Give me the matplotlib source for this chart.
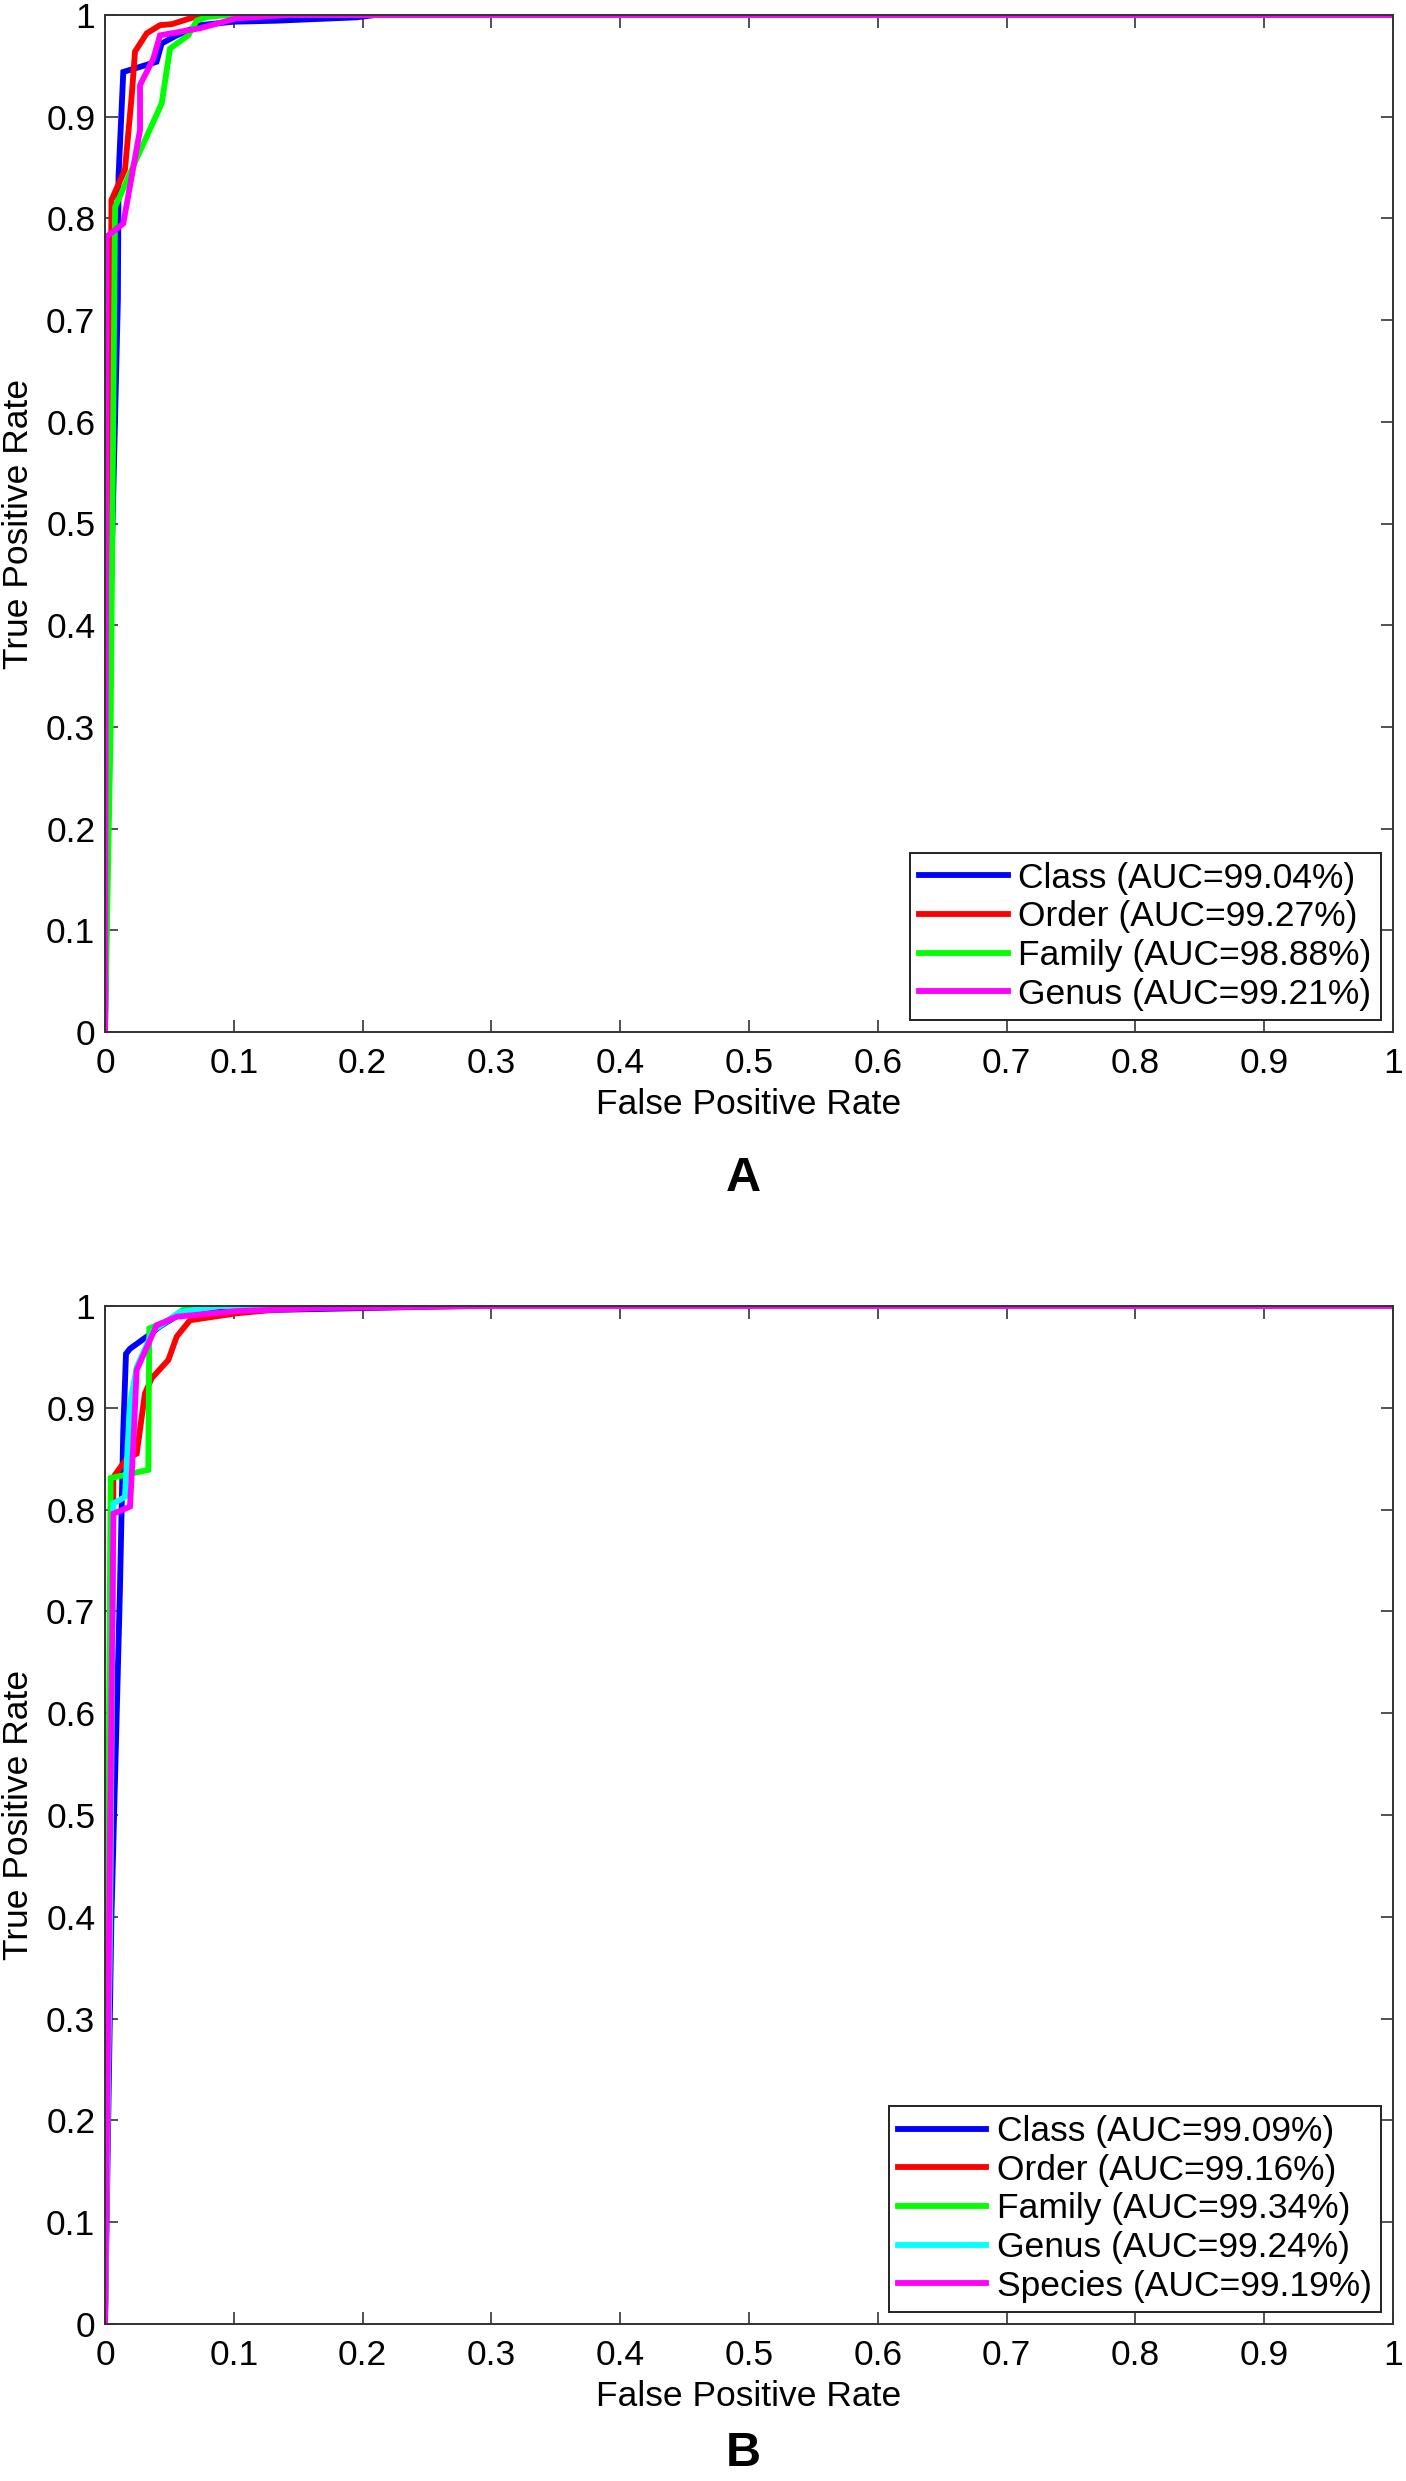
import matplotlib
matplotlib.use("Agg")
import matplotlib.pyplot as plt

plt.rcParams['font.family'] = ['Liberation Sans', 'DejaVu Sans']

# ---------------- Data ----------------
# Panel A
a_class_fpr = [0, 0.004, 0.010, 0.0105, 0.0142, 0.040, 0.044, 0.0557, 0.0738, 0.0996, 0.133, 0.195, 0.21, 1]
a_class_tpr = [0, 0.40, 0.72, 0.841, 0.944, 0.954, 0.972, 0.980, 0.990, 0.9934, 0.9944, 0.9977, 1, 1]
a_order_fpr = [0, 0.003, 0.005, 0.0155, 0.0207, 0.0233, 0.0324, 0.0427, 0.0518, 0.0686, 0.076, 1]
a_order_tpr = [0, 0.40, 0.818, 0.848, 0.920, 0.964, 0.982, 0.990, 0.991, 0.9977, 1, 1]
a_family_fpr = [0, 0.0044, 0.0078, 0.0207, 0.044, 0.0505, 0.0647, 0.0712, 0.079, 0.095, 1]
a_family_tpr = [0, 0.30, 0.811, 0.848, 0.913, 0.967, 0.980, 0.9944, 0.998, 1, 1]
a_genus_fpr = [0, 0.0013, 0.0142, 0.0272, 0.0272, 0.0375, 0.0427, 0.0738, 0.102, 0.144, 1]
a_genus_tpr = [0, 0.782, 0.795, 0.887, 0.931, 0.957, 0.980, 0.987, 0.9967, 1, 1]

# Panel B
b_class_fpr = [0, 0.005, 0.0116, 0.0142, 0.0163, 0.0194, 0.0336, 0.0427, 0.058, 0.102, 0.28, 1]
b_class_tpr = [0, 0.40, 0.721, 0.878, 0.953, 0.958, 0.971, 0.980, 0.992, 0.9954, 1, 1]
b_order_fpr = [0, 0.004, 0.0065, 0.0168, 0.0246, 0.031, 0.0362, 0.0492, 0.0557, 0.066, 0.102, 0.1436, 0.20, 1]
b_order_tpr = [0, 0.40, 0.832, 0.850, 0.855, 0.914, 0.929, 0.947, 0.970, 0.986, 0.9928, 0.9977, 1, 1]
b_family_fpr = [0, 0.0044, 0.0336, 0.0344, 0.0479, 0.061, 0.067, 1]
b_family_tpr = [0, 0.831, 0.839, 0.978, 0.985, 0.9967, 1, 1]
b_genus_fpr = [0, 0.004, 0.0065, 0.0155, 0.0194, 0.0246, 0.0375, 0.058, 0.09, 1]
b_genus_tpr = [0, 0.40, 0.806, 0.8125, 0.904, 0.940, 0.976, 0.994, 1, 1]
b_species_fpr = [0, 0.0065, 0.0194, 0.0215, 0.0246, 0.040, 0.0557, 0.102, 0.17, 0.30, 1]
b_species_tpr = [0, 0.796, 0.803, 0.852, 0.937, 0.981, 0.9895, 0.995, 0.998, 1, 1]

a_labels = ["Class (AUC=99.04%)", "Order (AUC=99.27%)", "Family (AUC=98.88%)", "Genus (AUC=99.21%)"]
b_labels = ["Class (AUC=99.09%)", "Order (AUC=99.16%)", "Family (AUC=99.34%)",
            "Genus (AUC=99.24%)", "Species (AUC=99.19%)"]
a_colors = ["#0000ff", "#ff0000", "#00ff00", "#ff00ff"]
b_colors = ["#0000ff", "#ff0000", "#00ff00", "#00ffff", "#ff00ff"]

ticks = [0, 0.1, 0.2, 0.3, 0.4, 0.5, 0.6, 0.7, 0.8, 0.9, 1]
tick_labels = ["0", "0.1", "0.2", "0.3", "0.4", "0.5", "0.6", "0.7", "0.8", "0.9", "1"]

# ---------------- Figure ----------------
W, H = 1406, 2481
fig = plt.figure(figsize=(W / 100, H / 100), dpi=100)

def make_axes(top_px, bottom_px):
    left, right = 105, 1393
    return fig.add_axes([left / W, 1 - bottom_px / H, (right - left) / W, (bottom_px - top_px) / H])

axA = make_axes(15, 1032)
axB = make_axes(1306, 2324)

FS = 25.5

def style(ax, series, labels, colors):
    for (x, y), lab, c in zip(series, labels, colors):
        ax.plot(x, y, color=c, lw=4.2, label=lab, solid_joinstyle='miter')
    ax.set_xlim(0, 1)
    ax.set_ylim(0, 1)
    ax.set_xticks(ticks)
    ax.set_xticklabels(tick_labels)
    ax.set_yticks(ticks)
    ax.set_yticklabels(tick_labels)
    ax.tick_params(direction='in', length=9, width=1.2, top=True, right=True,
                   labelsize=FS, colors='#333333', labelcolor='black')
    ax.tick_params(axis='x', pad=11)
    ax.tick_params(axis='y', pad=7)
    for s in ax.spines.values():
        s.set_color('#333333')
        s.set_linewidth(1.4)
    ax.set_xlabel("False Positive Rate", fontsize=FS)
    ax.set_ylabel("True Positive Rate", fontsize=FS)
    ax.xaxis.set_label_coords(0.5, -0.071)
    ax.xaxis.label.set_verticalalignment('center')
    ax.yaxis.set_label_coords(-0.067, 0.5)
    ax.yaxis.label.set_verticalalignment('center')
    leg = ax.legend(loc='lower right', fontsize=FS, frameon=True, fancybox=False,
                    edgecolor='#222222', framealpha=1, borderaxespad=0.35,
                    handlelength=2.5, handletextpad=0.3, labelspacing=0.16,
                    borderpad=0.25)
    leg.get_frame().set_linewidth(1.4)

style(axA,
      [(a_class_fpr, a_class_tpr), (a_order_fpr, a_order_tpr),
       (a_family_fpr, a_family_tpr), (a_genus_fpr, a_genus_tpr)],
      a_labels, a_colors)
style(axB,
      [(b_class_fpr, b_class_tpr), (b_order_fpr, b_order_tpr),
       (b_family_fpr, b_family_tpr), (b_genus_fpr, b_genus_tpr),
       (b_species_fpr, b_species_tpr)],
      b_labels, b_colors)

fig.text(743 / W, 1 - 1179 / H, "A", fontsize=35, fontweight='bold', ha='center', va='center')
fig.text(743 / W, 1 - 2454 / H, "B", fontsize=35, fontweight='bold', ha='center', va='center')

fig.savefig("out.png", dpi=100, facecolor='white')
